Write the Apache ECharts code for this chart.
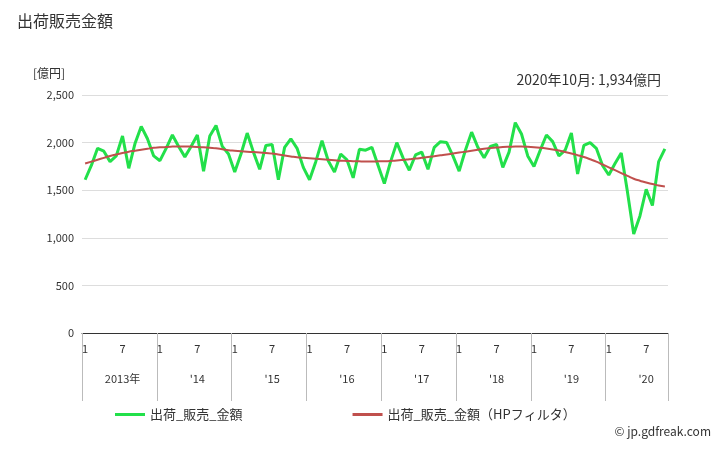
<!DOCTYPE html>
<html><head><meta charset="utf-8">
<script src="https://cdn.jsdelivr.net/npm/echarts@6/dist/echarts.min.js"></script>
<style>body{margin:0}#c{width:728px;height:450px}</style></head>
<body><div id="c"></div>
<script>
// 月別の出荷販売金額（億円）2013年1月〜2020年10月
var years = ['2013年', "'14", "'15", "'16", "'17", "'18", "'19", "'20"];
var sales = [
  1610,1760,1940,1910,1800,1860,2070,1730,1990,2170,2040,1860,
  1810,1940,2080,1960,1850,1960,2080,1700,2070,2180,1960,1880,
  1690,1880,2100,1900,1720,1970,1980,1610,1950,2040,1940,1740,
  1610,1800,2020,1810,1690,1880,1820,1630,1930,1920,1950,1760,
  1570,1800,2000,1840,1710,1870,1900,1720,1950,2010,2000,1860,
  1700,1920,2110,1950,1840,1960,1980,1740,1900,2210,2090,1860,
  1750,1920,2080,2010,1860,1920,2100,1670,1970,2000,1940,1760,
  1660,1780,1890,1480,1040,1230,1510,1340,1800,1934
];
var trend = [
  1780,1800,1820,1840,1860,1875,1890,1905,1915,1925,1935,1945,
  1950,1955,1958,1960,1960,1958,1955,1950,1945,1940,1930,1920,
  1915,1910,1905,1900,1895,1890,1885,1875,1865,1855,1845,1840,
  1835,1830,1825,1820,1815,1810,1808,1805,1803,1802,1802,1803,
  1805,1808,1812,1818,1825,1832,1840,1848,1857,1866,1875,1885,
  1895,1905,1915,1925,1935,1942,1948,1953,1956,1958,1958,1956,
  1952,1946,1938,1928,1916,1902,1886,1868,1848,1825,1800,1770,
  1740,1710,1680,1650,1620,1600,1580,1565,1550,1540
];
var months = sales.map(function (v, i) { return String(i % 12 + 1); });

var chart = echarts.init(document.getElementById('c'));
chart.setOption({
  textStyle: { fontFamily: 'Noto Sans CJK JP' },
  title: [
    { text: '出荷販売金額', left: 12, top: 8, textStyle: { fontSize: 16, fontWeight: 'normal', color: '#333' } },
    { text: '[億円]', left: 28, top: 62, textStyle: { fontSize: 12, fontWeight: 'normal', color: '#333' } },
    { text: '2020年10月: 1,934億円', right: 62, top: 68, textStyle: { fontSize: 14, fontWeight: 'normal', color: '#333' } },
    { text: '© jp.gdfreak.com', right: 12, bottom: 8, textStyle: { fontSize: 12, fontWeight: 'normal', color: '#333' } }
  ],
  legend: {
    bottom: 24, left: 110, itemGap: 110, itemWidth: 30, itemHeight: 3,
    textStyle: { fontSize: 13, color: '#333' },
    data: [{ name: '出荷_販売_金額', icon: 'rect' }, { name: '出荷_販売_金額（HPフィルタ）', icon: 'rect' }]
  },
  grid: { left: 82, right: 60, top: 95, bottom: 117 },
  xAxis: [{
    type: 'category', data: months, boundaryGap: true,
    axisLine: { lineStyle: { color: '#333' } },
    axisTick: { show: false },
    axisLabel: { color: '#333', fontSize: 11, margin: 10, interval: function (i) { return i % 12 === 0 || i % 12 === 6; } }
  }, {
    type: 'category', data: months, position: 'bottom', boundaryGap: true,
    axisLine: { show: false },
    axisTick: { show: true, length: 68, lineStyle: { color: '#bbb' }, interval: function (i) { return i % 12 === 0; } },
    axisLabel: {
      color: '#333', fontSize: 11, margin: 40,
      interval: function (i) { return i % 12 === 6; },
      formatter: function (v, i) { return years[Math.floor(i / 12)]; }
    }
  }],
  yAxis: {
    type: 'value', min: 0, max: 2500, interval: 500,
    axisLabel: { color: '#333', fontSize: 11, formatter: function (v) { return v.toLocaleString('en-US'); } },
    splitLine: { lineStyle: { color: '#ddd' } }
  },
  series: [{
    name: '出荷_販売_金額', type: 'line', data: sales, symbol: 'none',
    lineStyle: { color: '#22e04a', width: 3 }, itemStyle: { color: '#22e04a' }
  }, {
    name: '出荷_販売_金額（HPフィルタ）', type: 'line', data: trend, symbol: 'none', smooth: true,
    lineStyle: { color: '#c0504d', width: 2 }, itemStyle: { color: '#c0504d' }
  }]
});
</script></body></html>
